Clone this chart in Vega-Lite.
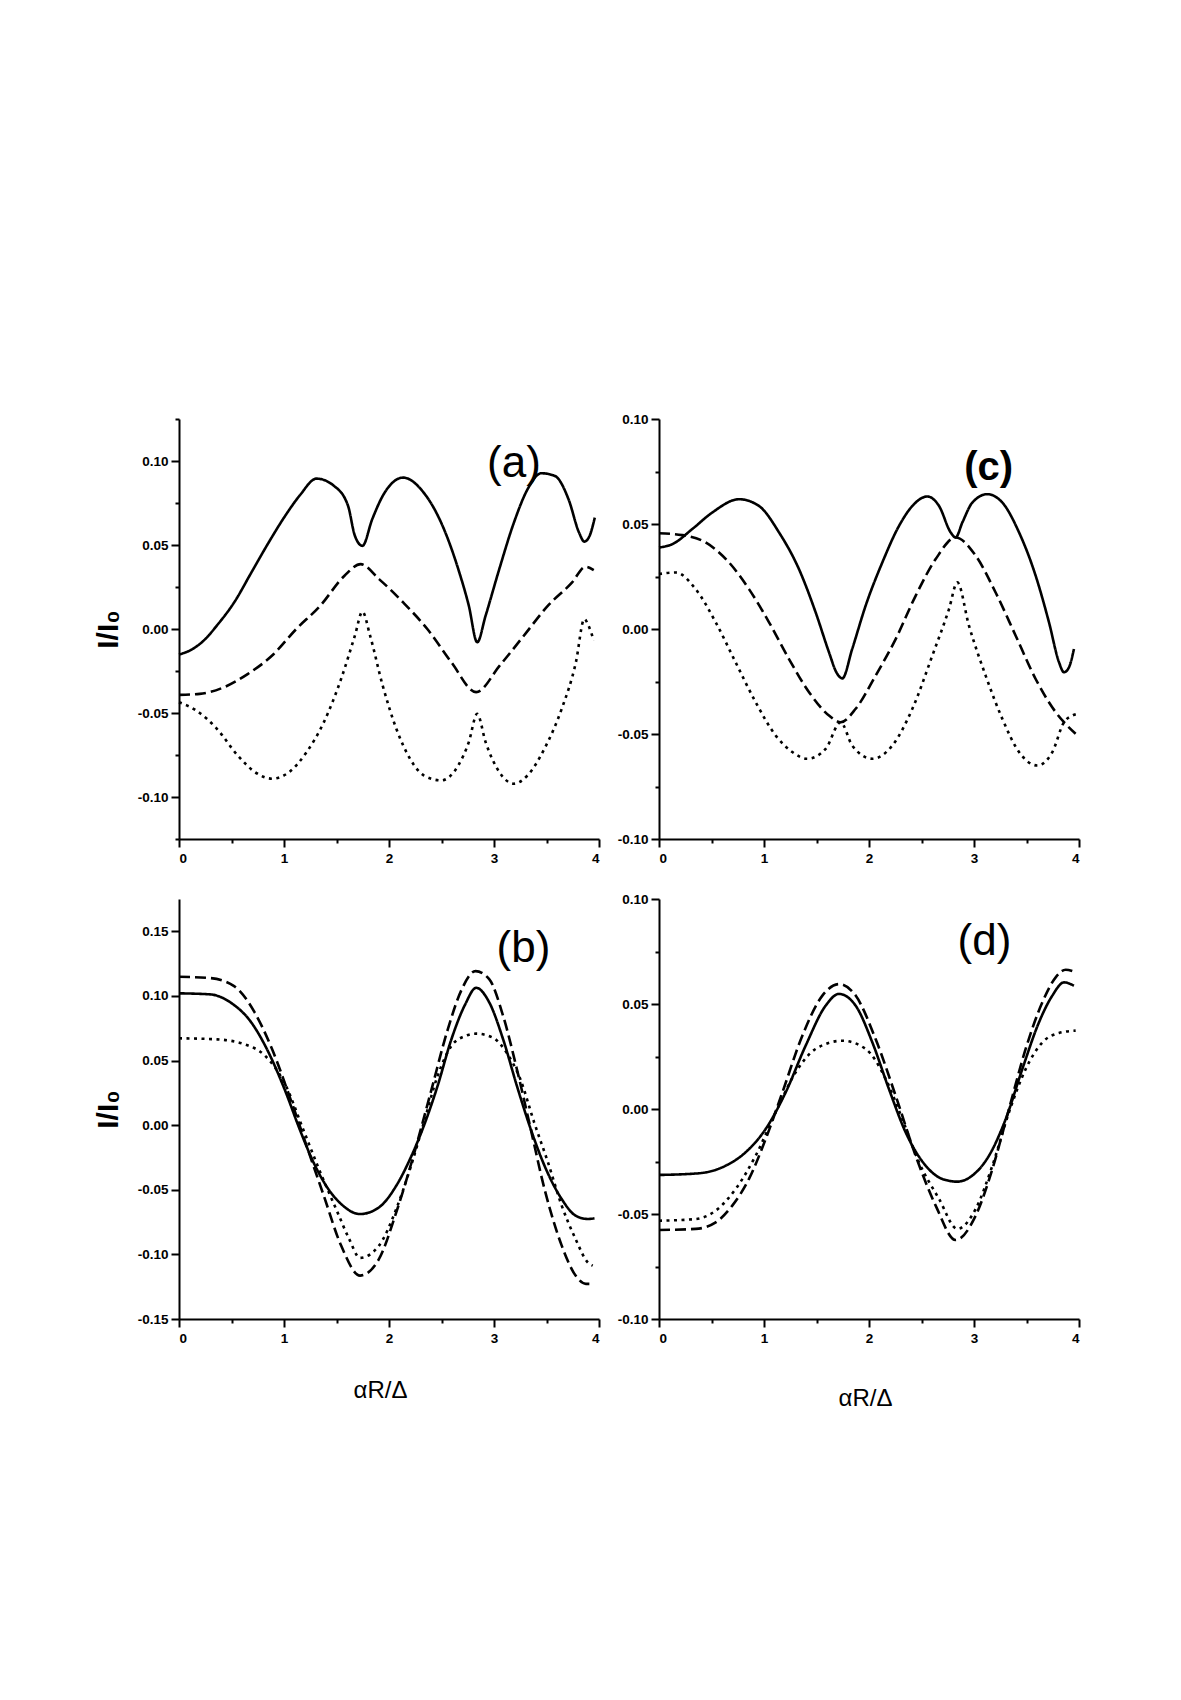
{
  "$schema": "https://vega.github.io/schema/vega-lite/v6.json",
  "background": "white",
  "padding": {"left": 93, "top": 412, "right": 5, "bottom": 5},
  "config": {
    "view": {"stroke": null},
    "font": "Liberation Sans",
    "axis": {
      "grid": false,
      "domainColor": "black",
      "domainWidth": 2,
      "tickColor": "black",
      "tickWidth": 2,
      "labelColor": "black",
      "labelFont": "Liberation Sans",
      "labelFontSize": 13.5,
      "labelFontWeight": "bold",
      "titleColor": "black",
      "titleFont": "Liberation Sans"
    }
  },
  "datasets": {
    "curves": [
      {"p":"a","s":"solid","x":0,"y":-0.0152},{"p":"a","s":"solid","x":0.13,"y":-0.0119},{"p":"a","s":"solid","x":0.25,"y":-0.006},{"p":"a","s":"solid","x":0.36,"y":0.002},{"p":"a","s":"solid","x":0.525,"y":0.0158},{"p":"a","s":"solid","x":0.69,"y":0.0337},{"p":"a","s":"solid","x":0.854,"y":0.0515},{"p":"a","s":"solid","x":1.018,"y":0.068},{"p":"a","s":"solid","x":1.15,"y":0.0795},{"p":"a","s":"solid","x":1.31,"y":0.0895},{"p":"a","s":"solid","x":1.478,"y":0.0851},{"p":"a","s":"solid","x":1.61,"y":0.0733},{"p":"a","s":"solid","x":1.675,"y":0.0555},{"p":"a","s":"solid","x":1.747,"y":0.0495},{"p":"a","s":"solid","x":1.84,"y":0.0653},{"p":"a","s":"solid","x":1.94,"y":0.0792},{"p":"a","s":"solid","x":2.135,"y":0.0901},{"p":"a","s":"solid","x":2.33,"y":0.0812},{"p":"a","s":"solid","x":2.496,"y":0.0634},{"p":"a","s":"solid","x":2.66,"y":0.0356},{"p":"a","s":"solid","x":2.76,"y":0.0139},{"p":"a","s":"solid","x":2.84,"y":-0.0079},{"p":"a","s":"solid","x":2.92,"y":0.0079},{"p":"a","s":"solid","x":3.05,"y":0.0356},{"p":"a","s":"solid","x":3.19,"y":0.0634},{"p":"a","s":"solid","x":3.32,"y":0.0832},{"p":"a","s":"solid","x":3.45,"y":0.0927},{"p":"a","s":"solid","x":3.58,"y":0.0911},{"p":"a","s":"solid","x":3.71,"y":0.0772},{"p":"a","s":"solid","x":3.81,"y":0.0574},{"p":"a","s":"solid","x":3.86,"y":0.052},{"p":"a","s":"solid","x":3.91,"y":0.0554},{"p":"a","s":"solid","x":3.96,"y":0.0663},
      {"p":"a","s":"dashed","x":0,"y":-0.0392},{"p":"a","s":"dashed","x":0.197,"y":-0.0386},{"p":"a","s":"dashed","x":0.427,"y":-0.0347},{"p":"a","s":"dashed","x":0.657,"y":-0.0267},{"p":"a","s":"dashed","x":0.887,"y":-0.0158},{"p":"a","s":"dashed","x":1.117,"y":0},{"p":"a","s":"dashed","x":1.346,"y":0.0139},{"p":"a","s":"dashed","x":1.576,"y":0.0317},{"p":"a","s":"dashed","x":1.73,"y":0.0386},{"p":"a","s":"dashed","x":1.905,"y":0.0297},{"p":"a","s":"dashed","x":2.135,"y":0.0158},{"p":"a","s":"dashed","x":2.365,"y":0},{"p":"a","s":"dashed","x":2.594,"y":-0.0198},{"p":"a","s":"dashed","x":2.83,"y":-0.0376},{"p":"a","s":"dashed","x":3.054,"y":-0.0218},{"p":"a","s":"dashed","x":3.284,"y":-0.004},{"p":"a","s":"dashed","x":3.514,"y":0.0139},{"p":"a","s":"dashed","x":3.744,"y":0.0277},{"p":"a","s":"dashed","x":3.87,"y":0.037},{"p":"a","s":"dashed","x":3.95,"y":0.035},
      {"p":"a","s":"dotted","x":0,"y":-0.0436},{"p":"a","s":"dotted","x":0.164,"y":-0.0485},{"p":"a","s":"dotted","x":0.361,"y":-0.0594},{"p":"a","s":"dotted","x":0.558,"y":-0.0752},{"p":"a","s":"dotted","x":0.722,"y":-0.0851},{"p":"a","s":"dotted","x":0.887,"y":-0.0891},{"p":"a","s":"dotted","x":1.05,"y":-0.0851},{"p":"a","s":"dotted","x":1.215,"y":-0.0733},{"p":"a","s":"dotted","x":1.38,"y":-0.0554},{"p":"a","s":"dotted","x":1.544,"y":-0.0297},{"p":"a","s":"dotted","x":1.675,"y":-0.004},{"p":"a","s":"dotted","x":1.747,"y":0.0103},{"p":"a","s":"dotted","x":1.82,"y":-0.004},{"p":"a","s":"dotted","x":1.94,"y":-0.0337},{"p":"a","s":"dotted","x":2.07,"y":-0.0594},{"p":"a","s":"dotted","x":2.2,"y":-0.0772},{"p":"a","s":"dotted","x":2.33,"y":-0.0871},{"p":"a","s":"dotted","x":2.496,"y":-0.0901},{"p":"a","s":"dotted","x":2.66,"y":-0.0812},{"p":"a","s":"dotted","x":2.76,"y":-0.0673},{"p":"a","s":"dotted","x":2.84,"y":-0.0505},{"p":"a","s":"dotted","x":2.92,"y":-0.0673},{"p":"a","s":"dotted","x":3.05,"y":-0.0851},{"p":"a","s":"dotted","x":3.19,"y":-0.0921},{"p":"a","s":"dotted","x":3.32,"y":-0.0871},{"p":"a","s":"dotted","x":3.48,"y":-0.0713},{"p":"a","s":"dotted","x":3.645,"y":-0.0475},{"p":"a","s":"dotted","x":3.78,"y":-0.0198},{"p":"a","s":"dotted","x":3.86,"y":0.0059},{"p":"a","s":"dotted","x":3.9,"y":0.002},{"p":"a","s":"dotted","x":3.95,"y":-0.0069},
      {"p":"c","s":"solid","x":0,"y":0.0388},{"p":"c","s":"solid","x":0.127,"y":0.0404},{"p":"c","s":"solid","x":0.317,"y":0.0476},{"p":"c","s":"solid","x":0.508,"y":0.0555},{"p":"c","s":"solid","x":0.762,"y":0.0618},{"p":"c","s":"solid","x":0.952,"y":0.0586},{"p":"c","s":"solid","x":1.143,"y":0.046},{"p":"c","s":"solid","x":1.333,"y":0.0285},{"p":"c","s":"solid","x":1.492,"y":0.0079},{"p":"c","s":"solid","x":1.619,"y":-0.0111},{"p":"c","s":"solid","x":1.689,"y":-0.0206},{"p":"c","s":"solid","x":1.746,"y":-0.0235},{"p":"c","s":"solid","x":1.84,"y":-0.0095},{"p":"c","s":"solid","x":1.968,"y":0.0111},{"p":"c","s":"solid","x":2.127,"y":0.0317},{"p":"c","s":"solid","x":2.286,"y":0.0491},{"p":"c","s":"solid","x":2.413,"y":0.0586},{"p":"c","s":"solid","x":2.556,"y":0.0631},{"p":"c","s":"solid","x":2.667,"y":0.0586},{"p":"c","s":"solid","x":2.778,"y":0.046},{"p":"c","s":"solid","x":2.825,"y":0.0436},{"p":"c","s":"solid","x":2.889,"y":0.0507},{"p":"c","s":"solid","x":2.984,"y":0.0602},{"p":"c","s":"solid","x":3.127,"y":0.0642},{"p":"c","s":"solid","x":3.27,"y":0.0602},{"p":"c","s":"solid","x":3.429,"y":0.046},{"p":"c","s":"solid","x":3.587,"y":0.0254},{"p":"c","s":"solid","x":3.714,"y":0.0032},{"p":"c","s":"solid","x":3.81,"y":-0.0159},{"p":"c","s":"solid","x":3.857,"y":-0.0206},{"p":"c","s":"solid","x":3.905,"y":-0.0182},{"p":"c","s":"solid","x":3.952,"y":-0.0095},
      {"p":"c","s":"dashed","x":0,"y":0.0456},{"p":"c","s":"dashed","x":0.222,"y":0.0447},{"p":"c","s":"dashed","x":0.444,"y":0.0412},{"p":"c","s":"dashed","x":0.667,"y":0.0317},{"p":"c","s":"dashed","x":0.857,"y":0.019},{"p":"c","s":"dashed","x":1.048,"y":0.0032},{"p":"c","s":"dashed","x":1.238,"y":-0.0143},{"p":"c","s":"dashed","x":1.429,"y":-0.0301},{"p":"c","s":"dashed","x":1.619,"y":-0.0412},{"p":"c","s":"dashed","x":1.73,"y":-0.0444},{"p":"c","s":"dashed","x":1.873,"y":-0.038},{"p":"c","s":"dashed","x":2.063,"y":-0.0222},{"p":"c","s":"dashed","x":2.254,"y":-0.0048},{"p":"c","s":"dashed","x":2.444,"y":0.0158},{"p":"c","s":"dashed","x":2.635,"y":0.0333},{"p":"c","s":"dashed","x":2.825,"y":0.0436},{"p":"c","s":"dashed","x":3.016,"y":0.0349},{"p":"c","s":"dashed","x":3.206,"y":0.0174},{"p":"c","s":"dashed","x":3.397,"y":-0.0032},{"p":"c","s":"dashed","x":3.587,"y":-0.0238},{"p":"c","s":"dashed","x":3.778,"y":-0.0396},{"p":"c","s":"dashed","x":3.857,"y":-0.0444},{"p":"c","s":"dashed","x":3.968,"y":-0.0499},
      {"p":"c","s":"dotted","x":0,"y":0.0262},{"p":"c","s":"dotted","x":0.159,"y":0.0269},{"p":"c","s":"dotted","x":0.349,"y":0.019},{"p":"c","s":"dotted","x":0.54,"y":0.0032},{"p":"c","s":"dotted","x":0.73,"y":-0.0159},{"p":"c","s":"dotted","x":0.921,"y":-0.0349},{"p":"c","s":"dotted","x":1.111,"y":-0.0507},{"p":"c","s":"dotted","x":1.27,"y":-0.0586},{"p":"c","s":"dotted","x":1.413,"y":-0.0618},{"p":"c","s":"dotted","x":1.587,"y":-0.0571},{"p":"c","s":"dotted","x":1.73,"y":-0.0444},{"p":"c","s":"dotted","x":1.84,"y":-0.0555},{"p":"c","s":"dotted","x":2.032,"y":-0.0618},{"p":"c","s":"dotted","x":2.222,"y":-0.0555},{"p":"c","s":"dotted","x":2.413,"y":-0.038},{"p":"c","s":"dotted","x":2.603,"y":-0.0127},{"p":"c","s":"dotted","x":2.762,"y":0.0095},{"p":"c","s":"dotted","x":2.841,"y":0.0222},{"p":"c","s":"dotted","x":2.952,"y":0.0016},{"p":"c","s":"dotted","x":3.111,"y":-0.0222},{"p":"c","s":"dotted","x":3.27,"y":-0.0428},{"p":"c","s":"dotted","x":3.429,"y":-0.0586},{"p":"c","s":"dotted","x":3.603,"y":-0.065},{"p":"c","s":"dotted","x":3.746,"y":-0.0586},{"p":"c","s":"dotted","x":3.857,"y":-0.0444},{"p":"c","s":"dotted","x":3.937,"y":-0.0412},{"p":"c","s":"dotted","x":3.98,"y":-0.0404},
      {"p":"b","s":"solid","x":0,"y":0.102},{"p":"b","s":"solid","x":0.296,"y":0.1012},{"p":"b","s":"solid","x":0.493,"y":0.0948},{"p":"b","s":"solid","x":0.69,"y":0.0793},{"p":"b","s":"solid","x":0.854,"y":0.0561},{"p":"b","s":"solid","x":1.018,"y":0.0252},{"p":"b","s":"solid","x":1.149,"y":-0.0031},{"p":"b","s":"solid","x":1.281,"y":-0.0288},{"p":"b","s":"solid","x":1.412,"y":-0.0482},{"p":"b","s":"solid","x":1.544,"y":-0.061},{"p":"b","s":"solid","x":1.724,"y":-0.0688},{"p":"b","s":"solid","x":1.905,"y":-0.0636},{"p":"b","s":"solid","x":2.069,"y":-0.0469},{"p":"b","s":"solid","x":2.2,"y":-0.0263},{"p":"b","s":"solid","x":2.332,"y":-0.0005},{"p":"b","s":"solid","x":2.463,"y":0.0304},{"p":"b","s":"solid","x":2.594,"y":0.0664},{"p":"b","s":"solid","x":2.726,"y":0.0935},{"p":"b","s":"solid","x":2.83,"y":0.1063},{"p":"b","s":"solid","x":2.956,"y":0.0948},{"p":"b","s":"solid","x":3.087,"y":0.0664},{"p":"b","s":"solid","x":3.218,"y":0.0304},{"p":"b","s":"solid","x":3.35,"y":-0.0031},{"p":"b","s":"solid","x":3.481,"y":-0.0314},{"p":"b","s":"solid","x":3.645,"y":-0.0572},{"p":"b","s":"solid","x":3.777,"y":-0.07},{"p":"b","s":"solid","x":3.892,"y":-0.0726},{"p":"b","s":"solid","x":3.957,"y":-0.0721},
      {"p":"b","s":"dashed","x":0,"y":0.1148},{"p":"b","s":"dashed","x":0.296,"y":0.1138},{"p":"b","s":"dashed","x":0.525,"y":0.1076},{"p":"b","s":"dashed","x":0.722,"y":0.087},{"p":"b","s":"dashed","x":0.887,"y":0.0587},{"p":"b","s":"dashed","x":1.051,"y":0.0227},{"p":"b","s":"dashed","x":1.215,"y":-0.016},{"p":"b","s":"dashed","x":1.379,"y":-0.0546},{"p":"b","s":"dashed","x":1.544,"y":-0.0932},{"p":"b","s":"dashed","x":1.724,"y":-0.1164},{"p":"b","s":"dashed","x":1.905,"y":-0.1035},{"p":"b","s":"dashed","x":2.069,"y":-0.0675},{"p":"b","s":"dashed","x":2.233,"y":-0.0237},{"p":"b","s":"dashed","x":2.397,"y":0.0252},{"p":"b","s":"dashed","x":2.56,"y":0.0742},{"p":"b","s":"dashed","x":2.693,"y":0.1051},{"p":"b","s":"dashed","x":2.824,"y":0.1192},{"p":"b","s":"dashed","x":2.956,"y":0.1128},{"p":"b","s":"dashed","x":3.087,"y":0.0845},{"p":"b","s":"dashed","x":3.218,"y":0.0433},{"p":"b","s":"dashed","x":3.35,"y":-0.0031},{"p":"b","s":"dashed","x":3.481,"y":-0.0494},{"p":"b","s":"dashed","x":3.645,"y":-0.0932},{"p":"b","s":"dashed","x":3.777,"y":-0.1164},{"p":"b","s":"dashed","x":3.875,"y":-0.1228},{"p":"b","s":"dashed","x":3.908,"y":-0.1228},
      {"p":"b","s":"dotted","x":0,"y":0.0672},{"p":"b","s":"dotted","x":0.361,"y":0.0664},{"p":"b","s":"dotted","x":0.624,"y":0.0626},{"p":"b","s":"dotted","x":0.821,"y":0.0536},{"p":"b","s":"dotted","x":1.018,"y":0.0304},{"p":"b","s":"dotted","x":1.182,"y":-0.0031},{"p":"b","s":"dotted","x":1.346,"y":-0.0366},{"p":"b","s":"dotted","x":1.51,"y":-0.0675},{"p":"b","s":"dotted","x":1.62,"y":-0.088},{"p":"b","s":"dotted","x":1.724,"y":-0.1027},{"p":"b","s":"dotted","x":1.905,"y":-0.0932},{"p":"b","s":"dotted","x":2.069,"y":-0.0649},{"p":"b","s":"dotted","x":2.2,"y":-0.034},{"p":"b","s":"dotted","x":2.332,"y":0.002},{"p":"b","s":"dotted","x":2.463,"y":0.0381},{"p":"b","s":"dotted","x":2.594,"y":0.0613},{"p":"b","s":"dotted","x":2.726,"y":0.069},{"p":"b","s":"dotted","x":2.83,"y":0.0708},{"p":"b","s":"dotted","x":2.989,"y":0.0677},{"p":"b","s":"dotted","x":3.12,"y":0.0561},{"p":"b","s":"dotted","x":3.251,"y":0.0355},{"p":"b","s":"dotted","x":3.383,"y":0.002},{"p":"b","s":"dotted","x":3.514,"y":-0.0288},{"p":"b","s":"dotted","x":3.645,"y":-0.0623},{"p":"b","s":"dotted","x":3.777,"y":-0.0881},{"p":"b","s":"dotted","x":3.892,"y":-0.1061},{"p":"b","s":"dotted","x":3.94,"y":-0.1087},
      {"p":"d","s":"solid","x":0,"y":-0.0314},{"p":"d","s":"solid","x":0.381,"y":-0.0306},{"p":"d","s":"solid","x":0.635,"y":-0.027},{"p":"d","s":"solid","x":0.825,"y":-0.0206},{"p":"d","s":"solid","x":1.016,"y":-0.0095},{"p":"d","s":"solid","x":1.206,"y":0.0079},{"p":"d","s":"solid","x":1.397,"y":0.0302},{"p":"d","s":"solid","x":1.587,"y":0.0492},{"p":"d","s":"solid","x":1.714,"y":0.0548},{"p":"d","s":"solid","x":1.873,"y":0.0492},{"p":"d","s":"solid","x":2.032,"y":0.0317},{"p":"d","s":"solid","x":2.19,"y":0.0095},{"p":"d","s":"solid","x":2.349,"y":-0.0111},{"p":"d","s":"solid","x":2.54,"y":-0.027},{"p":"d","s":"solid","x":2.698,"y":-0.0333},{"p":"d","s":"solid","x":2.841,"y":-0.0346},{"p":"d","s":"solid","x":2.984,"y":-0.0317},{"p":"d","s":"solid","x":3.143,"y":-0.0222},{"p":"d","s":"solid","x":3.302,"y":-0.0048},{"p":"d","s":"solid","x":3.46,"y":0.019},{"p":"d","s":"solid","x":3.619,"y":0.0413},{"p":"d","s":"solid","x":3.746,"y":0.054},{"p":"d","s":"solid","x":3.857,"y":0.0603},{"p":"d","s":"solid","x":3.952,"y":0.0587},
      {"p":"d","s":"dashed","x":0,"y":-0.0576},{"p":"d","s":"dashed","x":0.349,"y":-0.0571},{"p":"d","s":"dashed","x":0.54,"y":-0.054},{"p":"d","s":"dashed","x":0.698,"y":-0.046},{"p":"d","s":"dashed","x":0.857,"y":-0.0333},{"p":"d","s":"dashed","x":1.016,"y":-0.0143},{"p":"d","s":"dashed","x":1.175,"y":0.0079},{"p":"d","s":"dashed","x":1.365,"y":0.0349},{"p":"d","s":"dashed","x":1.556,"y":0.054},{"p":"d","s":"dashed","x":1.714,"y":0.0595},{"p":"d","s":"dashed","x":1.873,"y":0.054},{"p":"d","s":"dashed","x":2.063,"y":0.0333},{"p":"d","s":"dashed","x":2.254,"y":0.0063},{"p":"d","s":"dashed","x":2.444,"y":-0.0222},{"p":"d","s":"dashed","x":2.635,"y":-0.046},{"p":"d","s":"dashed","x":2.825,"y":-0.0624},{"p":"d","s":"dashed","x":3.016,"y":-0.0508},{"p":"d","s":"dashed","x":3.175,"y":-0.0286},{"p":"d","s":"dashed","x":3.333,"y":0},{"p":"d","s":"dashed","x":3.492,"y":0.0286},{"p":"d","s":"dashed","x":3.651,"y":0.0508},{"p":"d","s":"dashed","x":3.778,"y":0.0627},{"p":"d","s":"dashed","x":3.873,"y":0.0663},{"p":"d","s":"dashed","x":3.952,"y":0.0654},
      {"p":"d","s":"dotted","x":0,"y":-0.0532},{"p":"d","s":"dotted","x":0.349,"y":-0.0524},{"p":"d","s":"dotted","x":0.54,"y":-0.0484},{"p":"d","s":"dotted","x":0.73,"y":-0.0381},{"p":"d","s":"dotted","x":0.921,"y":-0.0222},{"p":"d","s":"dotted","x":1.111,"y":-0.0016},{"p":"d","s":"dotted","x":1.302,"y":0.0175},{"p":"d","s":"dotted","x":1.492,"y":0.0286},{"p":"d","s":"dotted","x":1.746,"y":0.0325},{"p":"d","s":"dotted","x":1.968,"y":0.0286},{"p":"d","s":"dotted","x":2.159,"y":0.0143},{"p":"d","s":"dotted","x":2.317,"y":-0.0048},{"p":"d","s":"dotted","x":2.476,"y":-0.0254},{"p":"d","s":"dotted","x":2.667,"y":-0.0428},{"p":"d","s":"dotted","x":2.841,"y":-0.0571},{"p":"d","s":"dotted","x":3.016,"y":-0.0476},{"p":"d","s":"dotted","x":3.175,"y":-0.027},{"p":"d","s":"dotted","x":3.333,"y":-0.0016},{"p":"d","s":"dotted","x":3.492,"y":0.019},{"p":"d","s":"dotted","x":3.651,"y":0.0317},{"p":"d","s":"dotted","x":3.81,"y":0.0362},{"p":"d","s":"dotted","x":3.968,"y":0.0373}
    ]
  },
  "columns": 2,
  "spacing": 60,
  "bounds": "flush",
  "concat": [
    {
      "width": 420, "height": 420,
      "layer": [
        {
          "data": {"name": "curves"},
          "transform": [{"filter": "datum.p === 'a'"}],
          "mark": {"type": "line", "interpolate": "monotone", "color": "black", "strokeWidth": 2.6},
          "encoding": {
            "x": {"field": "x", "type": "quantitative", "scale": {"domain": [0, 4], "nice": false, "zero": false},
              "axis": {"values": [0, 0.5, 1, 1.5, 2, 2.5, 3, 3.5, 4], "labelExpr": "datum.value % 1 === 0 ? format(datum.value, 'd') : ''", "tickSize": {"condition": {"test": "datum.value % 1 === 0", "value": 8}, "value": 4}, "labelPadding": 4, "title": null}},
            "y": {"field": "y", "type": "quantitative", "scale": {"domain": [-0.125, 0.125], "nice": false, "zero": false},
              "axis": {"values": [-0.125, -0.1, -0.075, -0.05, -0.025, 0, 0.025, 0.05, 0.075, 0.1, 0.125], "labelExpr": "abs(datum.value*20 - round(datum.value*20)) < 0.001 ? replace(format(datum.value, '.2f'), '\u2212', '-') : ''", "tickSize": {"condition": {"test": "abs(datum.value*20 - round(datum.value*20)) < 0.001", "value": 8}, "value": 4}, "labelPadding": 3, "title": "I/I\u2080", "titleFontSize": 30, "titleFontWeight": "bold", "titlePadding": 14}},
            "strokeDash": {"field": "s", "type": "nominal", "scale": {"domain": ["solid", "dashed", "dotted"], "range": [[1, 0], [11, 5], [3, 4.5]]}, "legend": null}
          }
        },
        {
          "data": {"values": [{}]},
          "mark": {"type": "text", "text": "(a)", "font": "Liberation Sans", "fontSize": 44, "align": "center", "baseline": "middle", "color": "black"},
          "encoding": {"x": {"datum": 3.19}, "y": {"datum": 0.0984}}
        }
      ]
    },
    {
      "width": 420, "height": 420,
      "layer": [
        {
          "data": {"name": "curves"},
          "transform": [{"filter": "datum.p === 'c'"}],
          "mark": {"type": "line", "interpolate": "monotone", "color": "black", "strokeWidth": 2.6},
          "encoding": {
            "x": {"field": "x", "type": "quantitative", "scale": {"domain": [0, 4], "nice": false, "zero": false},
              "axis": {"values": [0, 0.5, 1, 1.5, 2, 2.5, 3, 3.5, 4], "labelExpr": "datum.value % 1 === 0 ? format(datum.value, 'd') : ''", "tickSize": {"condition": {"test": "datum.value % 1 === 0", "value": 8}, "value": 4}, "labelPadding": 4, "title": null}},
            "y": {"field": "y", "type": "quantitative", "scale": {"domain": [-0.1, 0.1], "nice": false, "zero": false},
              "axis": {"values": [-0.1, -0.075, -0.05, -0.025, 0, 0.025, 0.05, 0.075, 0.1], "labelExpr": "abs(datum.value*20 - round(datum.value*20)) < 0.001 ? replace(format(datum.value, '.2f'), '\u2212', '-') : ''", "tickSize": {"condition": {"test": "abs(datum.value*20 - round(datum.value*20)) < 0.001", "value": 8}, "value": 4}, "labelPadding": 3, "title": null}},
            "strokeDash": {"field": "s", "type": "nominal", "scale": {"domain": ["solid", "dashed", "dotted"], "range": [[1, 0], [11, 5], [3, 4.5]]}, "legend": null}
          }
        },
        {
          "data": {"values": [{}]},
          "mark": {"type": "text", "text": "(c)", "font": "Liberation Sans", "fontSize": 40, "fontWeight": "bold", "align": "center", "baseline": "middle", "color": "black"},
          "encoding": {"x": {"datum": 3.14}, "y": {"datum": 0.0769}}
        }
      ]
    },
    {
      "width": 420, "height": 420,
      "layer": [
        {
          "data": {"name": "curves"},
          "transform": [{"filter": "datum.p === 'b'"}],
          "mark": {"type": "line", "interpolate": "monotone", "color": "black", "strokeWidth": 2.6},
          "encoding": {
            "x": {"field": "x", "type": "quantitative", "scale": {"domain": [0, 4], "nice": false, "zero": false},
              "axis": {"values": [0, 0.5, 1, 1.5, 2, 2.5, 3, 3.5, 4], "labelExpr": "datum.value % 1 === 0 ? format(datum.value, 'd') : ''", "tickSize": {"condition": {"test": "datum.value % 1 === 0", "value": 8}, "value": 4}, "labelPadding": 4, "title": "\u03b1R/\u0394", "titleFontSize": 24, "titleFontWeight": "normal", "titlePadding": 34, "titleX": 201}},
            "y": {"field": "y", "type": "quantitative", "scale": {"domain": [-0.15, 0.175], "nice": false, "zero": false},
              "axis": {"values": [-0.15, -0.125, -0.1, -0.075, -0.05, -0.025, 0, 0.025, 0.05, 0.075, 0.1, 0.125, 0.15, 0.175], "labelExpr": "abs(datum.value*20 - round(datum.value*20)) < 0.001 ? replace(format(datum.value, '.2f'), '\u2212', '-') : ''", "tickSize": {"condition": {"test": "abs(datum.value*20 - round(datum.value*20)) < 0.001", "value": 8}, "value": 4}, "labelPadding": 3, "title": "I/I\u2080", "titleFontSize": 30, "titleFontWeight": "bold", "titlePadding": 14}},
            "strokeDash": {"field": "s", "type": "nominal", "scale": {"domain": ["solid", "dashed", "dotted"], "range": [[1, 0], [11, 5], [3, 4.5]]}, "legend": null}
          }
        },
        {
          "data": {"values": [{}]},
          "mark": {"type": "text", "text": "(b)", "font": "Liberation Sans", "fontSize": 44, "align": "center", "baseline": "middle", "color": "black"},
          "encoding": {"x": {"datum": 3.28}, "y": {"datum": 0.1364}}
        }
      ]
    },
    {
      "width": 420, "height": 420,
      "layer": [
        {
          "data": {"name": "curves"},
          "transform": [{"filter": "datum.p === 'd'"}],
          "mark": {"type": "line", "interpolate": "monotone", "color": "black", "strokeWidth": 2.6},
          "encoding": {
            "x": {"field": "x", "type": "quantitative", "scale": {"domain": [0, 4], "nice": false, "zero": false},
              "axis": {"values": [0, 0.5, 1, 1.5, 2, 2.5, 3, 3.5, 4], "labelExpr": "datum.value % 1 === 0 ? format(datum.value, 'd') : ''", "tickSize": {"condition": {"test": "datum.value % 1 === 0", "value": 8}, "value": 4}, "labelPadding": 4, "title": "\u03b1R/\u0394", "titleFontSize": 24, "titleFontWeight": "normal", "titlePadding": 42, "titleX": 206}},
            "y": {"field": "y", "type": "quantitative", "scale": {"domain": [-0.1, 0.1], "nice": false, "zero": false},
              "axis": {"values": [-0.1, -0.075, -0.05, -0.025, 0, 0.025, 0.05, 0.075, 0.1], "labelExpr": "abs(datum.value*20 - round(datum.value*20)) < 0.001 ? replace(format(datum.value, '.2f'), '\u2212', '-') : ''", "tickSize": {"condition": {"test": "abs(datum.value*20 - round(datum.value*20)) < 0.001", "value": 8}, "value": 4}, "labelPadding": 3, "title": null}},
            "strokeDash": {"field": "s", "type": "nominal", "scale": {"domain": ["solid", "dashed", "dotted"], "range": [[1, 0], [11, 5], [3, 4.5]]}, "legend": null}
          }
        },
        {
          "data": {"values": [{}]},
          "mark": {"type": "text", "text": "(d)", "font": "Liberation Sans", "fontSize": 44, "align": "center", "baseline": "middle", "color": "black"},
          "encoding": {"x": {"datum": 3.1}, "y": {"datum": 0.0794}}
        }
      ]
    }
  ]
}
